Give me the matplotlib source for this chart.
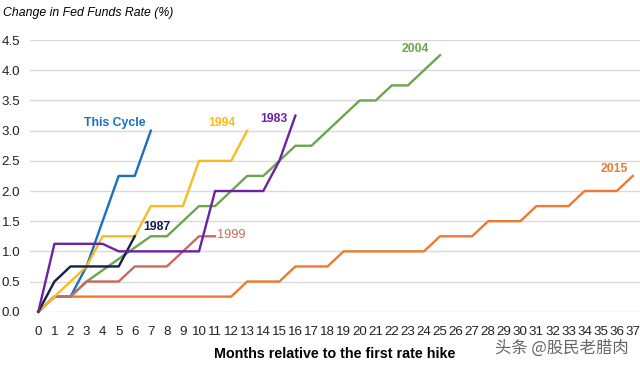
import matplotlib.pyplot as plt
from matplotlib import font_manager

# 폰트: 좁은 글꼴이 있으면 사용
names = {f.name for f in font_manager.fontManager.ttflist}
narrow = 'Liberation Sans Narrow' if 'Liberation Sans Narrow' in names else 'Liberation Sans'
plt.rcParams['font.family'] = [narrow, 'DejaVu Sans']

# 데이터 (month, change in %)
cycle_x = [0, 1, 2, 3, 4, 5, 6, 7]
cycle_y = [0, 0.25, 0.25, 0.75, 1.5, 2.25, 2.25, 3.0]

y1994_x = [0, 1, 2, 3, 4, 5, 6, 7, 8, 9, 10, 11, 12, 13]
y1994_y = [0, 0.25, 0.5, 0.75, 1.25, 1.25, 1.25, 1.75, 1.75, 1.75, 2.5, 2.5, 2.5, 3.0]

y1983_x = [0, 1, 2, 3, 4, 5, 6, 7, 8, 9, 10, 11, 12, 13, 14, 15, 16]
y1983_y = [0, 1.125, 1.125, 1.125, 1.125, 1.0, 1.0, 1.0, 1.0, 1.0, 1.0, 2.0, 2.0, 2.0, 2.0, 2.5, 3.25]

y1987_x = [0, 1, 2, 3, 4, 5, 6]
y1987_y = [0, 0.5, 0.75, 0.75, 0.75, 0.75, 1.25]

y1999_x = [0, 1, 2, 3, 4, 5, 6, 7, 8, 9, 10, 11]
y1999_y = [0, 0.25, 0.25, 0.5, 0.5, 0.5, 0.75, 0.75, 0.75, 1.0, 1.25, 1.25]

y2004_x = [0, 1, 2, 3, 7, 8, 10, 11, 13, 14, 15, 16, 17, 18, 19, 20, 21, 22, 23, 24, 25]
y2004_y = [0, 0.25, 0.25, 0.5, 1.25, 1.25, 1.75, 1.75, 2.25, 2.25, 2.5, 2.75, 2.75,
           3.0, 3.25, 3.5, 3.5, 3.75, 3.75, 4.0, 4.25]

y2015_x = list(range(38))
y2015_y = [0, 0.25, 0.25, 0.25, 0.25, 0.25, 0.25, 0.25, 0.25, 0.25, 0.25, 0.25, 0.25,
           0.5, 0.5, 0.5, 0.75, 0.75, 0.75, 1.0, 1.0, 1.0, 1.0, 1.0, 1.0,
           1.25, 1.25, 1.25, 1.5, 1.5, 1.5, 1.75, 1.75, 1.75, 2.0, 2.0, 2.0, 2.25]

fig = plt.figure(figsize=(6.4, 3.65), dpi=100)
ax = fig.add_axes([30 / 640, 0.146, 1 - 30 / 640, 0.744])

lw = 1.7
ax.plot(cycle_x, cycle_y, color='#1b6ec2', lw=lw, zorder=2, clip_on=False)
ax.plot(y2015_x, y2015_y, color='#eb7a30', lw=lw, zorder=3, clip_on=False)
ax.plot(y2004_x, y2004_y, color='#6aa64a', lw=lw, zorder=3, clip_on=False)
ax.plot(y1999_x, y1999_y, color='#c76a5e', lw=lw, zorder=4, clip_on=False)
ax.plot(y1994_x, y1994_y, color='#f9bb1f', lw=lw, zorder=4, clip_on=False)
ax.plot(y1987_x, y1987_y, color='#101f4e', lw=lw, zorder=5, clip_on=False)
ax.plot(y1983_x, y1983_y, color='#6b22a6', lw=lw, zorder=5, clip_on=False)

# 라벨
lab = dict(fontsize=8.8, fontweight='bold', va='center')
ax.text(2.84, 3.13, 'This Cycle', color='#1b6ec2', **lab)
ax.text(10.56, 3.13, '1994', color='#f9bb1f', **lab)
ax.text(13.8, 3.2, '1983', color='#6b22a6', **lab)
ax.text(22.6, 4.35, '2004', color='#6aa64a', **lab)
ax.text(35.0, 2.37, '2015', color='#eb7a30', **lab)
ax.text(6.53, 1.40, '1987', color='#101f4e', **lab)
ax.text(11.15, 1.27, '1999', color='#c76a5e', fontsize=9.2, va='center')

ax.set_xlim(-0.52, 37.45)
ax.set_ylim(0, 4.5)
ax.set_xticks(range(38))
ax.set_yticks([0, 0.5, 1.0, 1.5, 2.0, 2.5, 3.0, 3.5, 4.0, 4.5])
ax.set_yticklabels(['0.0', '0.5', '1.0', '1.5', '2.0', '2.5', '3.0', '3.5', '4.0', '4.5'])
ax.tick_params(length=0, colors='#222222')
ax.tick_params(axis='x', labelsize=9.6, pad=10)
ax.tick_params(axis='y', labelsize=9.6, pad=7)
ax.grid(axis='y', color='#d9d9d9', lw=1)
ax.set_axisbelow(True)
for s in ax.spines.values():
    s.set_visible(False)

ax.set_xlabel('Months relative to the first rate hike', fontsize=10.3, fontweight='bold', labelpad=7)
fig.text(0.005, 0.965, 'Change in Fed Funds Rate (%)', fontsize=8.8, style='italic', va='center')
fig.text(0.982, 0.045, '头条 @股民老腊肉', fontsize=11.8, color='#666666', ha='right', va='center',
         family=['Noto Sans CJK SC', 'DejaVu Sans'])

plt.savefig('out.png', dpi=100)
